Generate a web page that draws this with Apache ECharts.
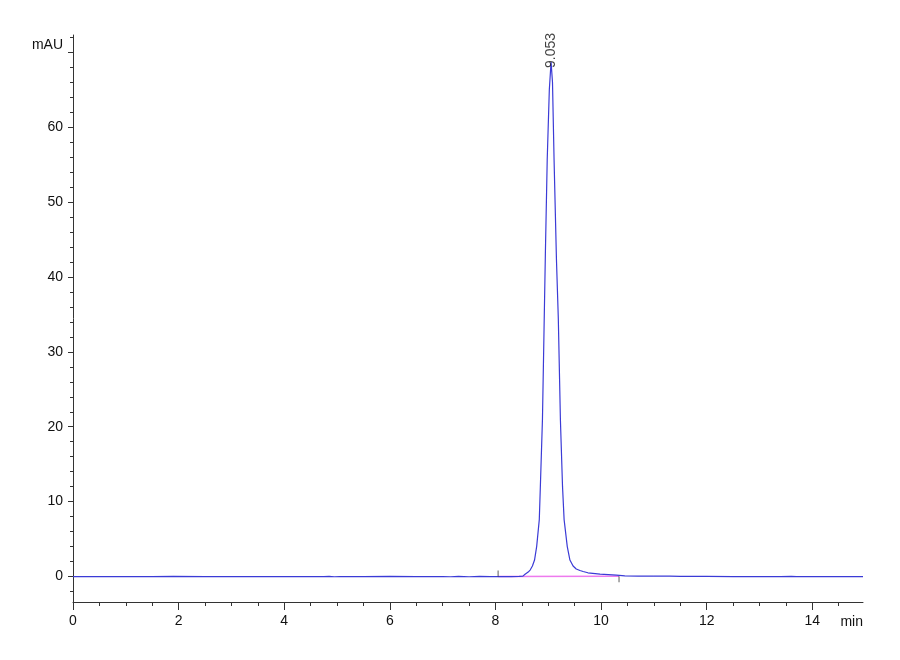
<!DOCTYPE html>
<html>
<head>
<meta charset="utf-8">
<script src="https://cdn.jsdelivr.net/npm/echarts@6/dist/echarts.min.js"></script>
<style>
html,body{margin:0;padding:0;background:#fff;}
#chart{width:900px;height:660px;}
</style>
</head>
<body>
<div id="chart"></div>
<script>
// Retention time (min)
var time = [0, 0.5, 1, 1.5, 1.9, 2.5, 3, 3.5, 4, 4.5, 4.75, 4.85, 4.95, 5.05, 5.5, 6, 6.5, 7, 7.15, 7.3, 7.5, 7.7, 7.9, 8.1, 8.3, 8.45, 8.52, 8.56, 8.62, 8.66, 8.70, 8.74, 8.78, 8.83, 8.85, 8.89, 8.92, 8.945, 8.98, 9.02, 9.053, 9.08, 9.11, 9.155, 9.19, 9.23, 9.27, 9.30, 9.36, 9.41, 9.47, 9.53, 9.6, 9.66, 9.75, 9.98, 10.29, 10.45, 10.7, 11, 11.3, 11.5, 12, 12.5, 13, 13.4, 13.6, 13.7, 14, 14.5, 14.96];
// Detector signal (mAU)
var mAU = [0, 0, 0, 0, 0.02, 0, 0, 0, 0, 0, -0.02, 0.02, -0.03, 0, 0, 0.01, 0, 0, -0.03, 0.02, -0.03, 0.01, -0.02, 0, 0, 0.01, 0.05, 0.3, 0.6, 0.9, 1.4, 2.2, 4.0, 7.6, 12.0, 21, 33, 43, 55.6, 65, 68.7, 66, 55.6, 42.3, 34.5, 20.9, 12.0, 7.6, 4.0, 2.2, 1.4, 1.0, 0.8, 0.67, 0.5, 0.33, 0.18, 0.1, 0.06, 0.05, 0.06, 0.03, 0.02, 0, 0, -0.02, 0.02, -0.02, 0, 0, 0];
// Integration baseline
var baselineTime = [8.05, 10.34];
var baselineValue = [0, 0.03];
// Peak annotation
var peakTime = [9.053];
var peakHeight = [68.7];
var peakLabels = ['9.053'];
// Axis ticks
var xMajorTicks = [0, 2, 4, 6, 8, 10, 12, 14];
var xMinorTicks = [0.5, 1, 1.5, 2.5, 3, 3.5, 4.5, 5, 5.5, 6.5, 7, 7.5, 8.5, 9, 9.5, 10.5, 11, 11.5, 12.5, 13, 13.5, 14.5];
var yLabelTicks = [0, 10, 20, 30, 40, 50, 60];
var yMajorTicks = [0, 10, 20, 30, 40, 50, 60, 70];
var yMinorTicks = [-2, 2, 4, 6, 8, 12, 14, 16, 18, 22, 24, 26, 28, 32, 34, 36, 38, 42, 44, 46, 48, 52, 54, 56, 58, 62, 64, 66, 68, 72];

var FONT = "'Liberation Sans Narrow', 'Arial Narrow', 'Liberation Sans', Arial, sans-serif";
var X_MIN = 0, X_MAX = 14.96, Y_MIN = -3.4, Y_MAX = 72.3;

var chart = echarts.init(document.getElementById('chart'), null, {renderer: 'canvas'});

var signal = time.map(function (t, i) { return [t, mAU[i]]; });
var baseline = baselineTime.map(function (t, i) { return [t, baselineValue[i]]; });
var peaks = peakTime.map(function (t, i) { return {value: [t, peakHeight[i]], name: peakLabels[i]}; });

var axisLineStyle = {color: '#333', width: 1};

chart.setOption({
  animation: false,
  backgroundColor: '#fff',
  grid: {left: 73, right: 37, top: 35, bottom: 58},
  xAxis: [{
    type: 'value', min: X_MIN, max: X_MAX,
    name: 'min', nameLocation: 'end', nameGap: 0,
    nameTextStyle: {fontFamily: FONT, fontSize: 14, color: '#111', align: 'right', verticalAlign: 'top', padding: [13, 0, 0, 0]},
    axisLine: {show: true, onZero: false, lineStyle: axisLineStyle},
    axisTick: {show: true, length: 8, customValues: xMajorTicks, lineStyle: axisLineStyle},
    axisLabel: {show: true, customValues: xMajorTicks, margin: 12, fontFamily: FONT, fontSize: 14, color: '#111'},
    splitLine: {show: false}
  }, {
    type: 'value', min: X_MIN, max: X_MAX, position: 'bottom',
    axisLine: {show: false, onZero: false},
    axisTick: {show: true, length: 4, customValues: xMinorTicks, lineStyle: axisLineStyle},
    axisLabel: {show: false},
    splitLine: {show: false}
  }],
  yAxis: [{
    type: 'value', min: Y_MIN, max: Y_MAX,
    name: 'mAU', nameLocation: 'end', nameGap: -10,
    nameTextStyle: {fontFamily: FONT, fontSize: 14, color: '#111', align: 'right', verticalAlign: 'middle', padding: [0, 10, 0, 0]},
    axisLine: {show: true, onZero: false, lineStyle: axisLineStyle},
    axisTick: {show: true, length: 5, customValues: yMajorTicks, lineStyle: axisLineStyle},
    axisLabel: {show: true, customValues: yLabelTicks, margin: 10, fontFamily: FONT, fontSize: 14, color: '#111'},
    splitLine: {show: false}
  }, {
    type: 'value', min: Y_MIN, max: Y_MAX, position: 'left',
    axisLine: {show: false, onZero: false},
    axisTick: {show: true, length: 3, customValues: yMinorTicks, lineStyle: axisLineStyle},
    axisLabel: {show: false},
    splitLine: {show: false}
  }],
  series: [{
    name: 'baseline', type: 'line', data: baseline, showSymbol: false, z: 2,
    lineStyle: {color: '#ee7aee', width: 1.5}
  }, {
    name: 'events', type: 'scatter', z: 4,
    data: [
      {value: [baselineTime[0], baselineValue[0]], symbolOffset: [0, -3]},
      {value: [baselineTime[1], baselineValue[1]], symbolOffset: [0, 3]}
    ],
    symbol: 'rect', symbolSize: [1, 6],
    itemStyle: {color: '#333'}
  }, {
    name: 'signal', type: 'line', data: signal, showSymbol: false, z: 3,
    lineStyle: {color: '#3b3bd6', width: 1.2}
  }, {
    name: 'peak', type: 'scatter', data: peaks, symbolSize: 0, z: 5,
    label: {
      show: true, position: 'top', distance: -6, rotate: 90,
      align: 'left', verticalAlign: 'middle',
      formatter: function (p) { return p.name; },
      fontFamily: FONT, fontSize: 14, color: '#111'
    }
  }]
});
</script>
</body>
</html>
